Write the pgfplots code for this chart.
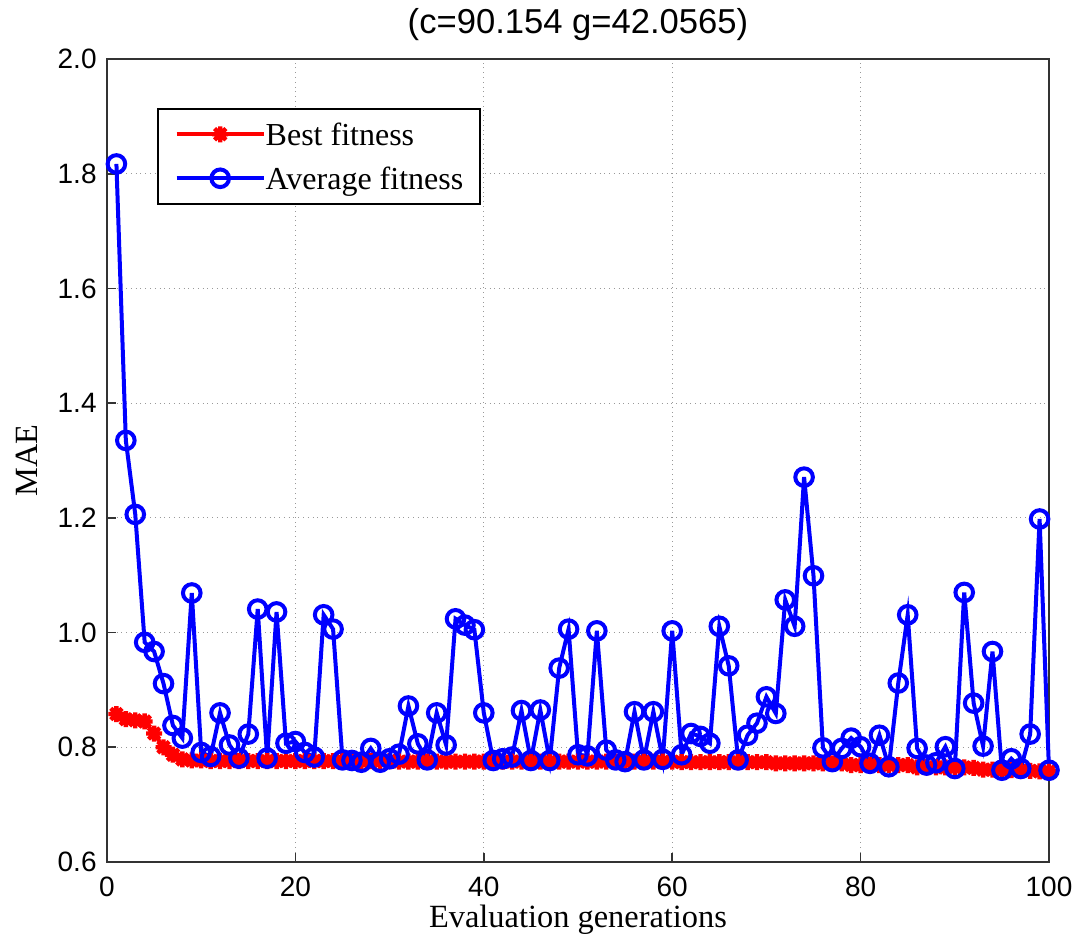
\documentclass[border=0pt]{standalone}
\usepackage{fontspec}
\setmainfont{Liberation Serif}
\newfontfamily\arialfont{Liberation Sans}
\usepackage{pgfplots}
\pgfplotsset{compat=1.18}
\pgfdeclareplotmark{mstar}{%
  \pgfpathmoveto{\pgfqpoint{0pt}{\pgfplotmarksize}}\pgfpathlineto{\pgfqpoint{0pt}{-\pgfplotmarksize}}%
  \pgfpathmoveto{\pgfqpoint{\pgfplotmarksize}{0pt}}\pgfpathlineto{\pgfqpoint{-\pgfplotmarksize}{0pt}}%
  \pgfpathmoveto{\pgfqpoint{.707\pgfplotmarksize}{.707\pgfplotmarksize}}\pgfpathlineto{\pgfqpoint{-.707\pgfplotmarksize}{-.707\pgfplotmarksize}}%
  \pgfpathmoveto{\pgfqpoint{-.707\pgfplotmarksize}{.707\pgfplotmarksize}}\pgfpathlineto{\pgfqpoint{.707\pgfplotmarksize}{-.707\pgfplotmarksize}}%
  \pgfusepathqstroke}
\begin{document}
\begin{tikzpicture}
\begin{axis}[
  scale only axis, width=471bp, height=401.5bp,
  xmin=0, xmax=100, ymin=0.6, ymax=2.0,
  xtick={0,20,40,60,80,100},
  ytick={0.6,0.8,1.0,1.2,1.4,1.6,1.8,2.0},
  /pgf/number format/assume math mode=true,
  tick label style={font=\arialfont\fontsize{14bp}{16bp}\selectfont, inner sep=0pt},
  xticklabel style={anchor=north, yshift=-7.5bp},
  yticklabel style={/pgf/number format/fixed, /pgf/number format/fixed zerofill, /pgf/number format/precision=1, anchor=east, xshift=-5bp},
  tick pos=left, tick align=inside, major tick length=4.5bp,
  tick style={line width=0.8bp, black!80},
  grid=major, grid style={dotted, line width=0.6bp, black!40},
  axis line style={line width=0.9bp, black!80},
  every axis title shift/.style={yshift=0pt},
  title={(c=90.154 g=42.0565)},
  title style={font=\arialfont\fontsize{17.3bp}{20bp}\selectfont, at={(axis description cs:0.5,1)}, anchor=base, yshift=7bp, inner sep=0pt},
  xlabel={Evaluation generations},
  xlabel style={font=\fontsize{16.2bp}{19bp}\selectfont, at={(axis description cs:0.5,0)}, anchor=base, yshift=-32.5bp, inner sep=0pt},
  ylabel={MAE},
  ylabel style={font=\fontsize{16.2bp}{19bp}\selectfont, at={(axis description cs:0,0.5)}, rotate=0, anchor=center, yshift=40bp, inner sep=0pt},
  legend style={at={(axis description cs:0.053,0.939)}, anchor=north west, draw=black, line width=0.8bp, fill=white,
    inner xsep=8.5bp, inner ysep=3.75bp, row sep=4bp,
    font=\fontsize{16bp}{19bp}\selectfont,
    nodes={inner sep=0pt, text height=14.5bp, text depth=3.5bp},
    /tikz/every even column/.append style={column sep=5bp}},
  legend cell align=left,
  legend image code/.code={\draw[mark repeat=2, mark phase=2] plot coordinates {(0bp,0bp) (21.75bp,0bp) (43.5bp,0bp)};},
  clip=false,
]
\addplot[red, line width=2bp, mark=mstar, mark size=4bp, mark options={line width=2.2bp, solid}] coordinates {
(1,0.858)(2,0.849)(3,0.847)(4,0.845)(5,0.824)(6,0.800)(7,0.787)(8,0.779)(9,0.777)(10,0.777)
(11,0.776)(12,0.776)(13,0.776)(14,0.776)(15,0.776)(16,0.776)(17,0.776)(18,0.776)(19,0.776)(20,0.776)
(21,0.776)(22,0.776)(23,0.776)(24,0.776)(25,0.776)(26,0.776)(27,0.776)(28,0.776)(29,0.776)(30,0.776)
(31,0.775)(32,0.775)(33,0.775)(34,0.775)(35,0.775)(36,0.775)(37,0.775)(38,0.775)(39,0.775)(40,0.775)
(41,0.775)(42,0.775)(43,0.775)(44,0.775)(45,0.775)(46,0.775)(47,0.775)(48,0.775)(49,0.775)(50,0.775)
(51,0.775)(52,0.775)(53,0.775)(54,0.775)(55,0.775)(56,0.775)(57,0.775)(58,0.775)(59,0.775)(60,0.775)
(61,0.774)(62,0.774)(63,0.774)(64,0.774)(65,0.774)(66,0.774)(67,0.774)(68,0.774)(69,0.774)(70,0.774)
(71,0.772)(72,0.772)(73,0.772)(74,0.772)(75,0.772)(76,0.772)(77,0.772)(78,0.772)(79,0.769)(80,0.769)
(81,0.769)(82,0.769)(83,0.769)(84,0.769)(85,0.769)(86,0.765)(87,0.765)(88,0.765)(89,0.765)(90,0.765)
(91,0.765)(92,0.764)(93,0.761)(94,0.761)(95,0.760)(96,0.760)(97,0.759)(98,0.759)(99,0.758)(100,0.758)
};
\addlegendentry{Best fitness}
\addplot[blue, line width=2bp, mark=o, mark size=4.4bp, mark options={line width=2bp, solid}] coordinates {
(1,1.817)(2,1.335)(3,1.206)(4,0.983)(5,0.967)(6,0.911)(7,0.838)(8,0.816)(9,1.069)(10,0.791)
(11,0.784)(12,0.860)(13,0.804)(14,0.781)(15,0.823)(16,1.041)(17,0.781)(18,1.036)(19,0.807)(20,0.810)
(21,0.791)(22,0.783)(23,1.031)(24,1.006)(25,0.778)(26,0.777)(27,0.774)(28,0.798)(29,0.774)(30,0.780)
(31,0.788)(32,0.872)(33,0.806)(34,0.778)(35,0.860)(36,0.804)(37,1.024)(38,1.013)(39,1.005)(40,0.860)
(41,0.777)(42,0.780)(43,0.783)(44,0.864)(45,0.777)(46,0.865)(47,0.777)(48,0.938)(49,1.006)(50,0.787)
(51,0.785)(52,1.003)(53,0.795)(54,0.778)(55,0.775)(56,0.862)(57,0.778)(58,0.862)(59,0.779)(60,1.003)
(61,0.787)(62,0.824)(63,0.819)(64,0.807)(65,1.011)(66,0.942)(67,0.778)(68,0.821)(69,0.842)(70,0.888)
(71,0.859)(72,1.057)(73,1.011)(74,1.271)(75,1.099)(76,0.799)(77,0.775)(78,0.798)(79,0.816)(80,0.801)
(81,0.772)(82,0.821)(83,0.766)(84,0.912)(85,1.031)(86,0.798)(87,0.769)(88,0.773)(89,0.801)(90,0.763)
(91,1.070)(92,0.877)(93,0.802)(94,0.967)(95,0.760)(96,0.780)(97,0.763)(98,0.823)(99,1.198)(100,0.760)
};
\addlegendentry{Average fitness}
\end{axis}
\pgfresetboundingbox
\path ([shift={(-53.5bp,-39bp)}]current axis.south west) rectangle ([shift={(21bp,29.5bp)}]current axis.north east);
\end{tikzpicture}
\end{document}
